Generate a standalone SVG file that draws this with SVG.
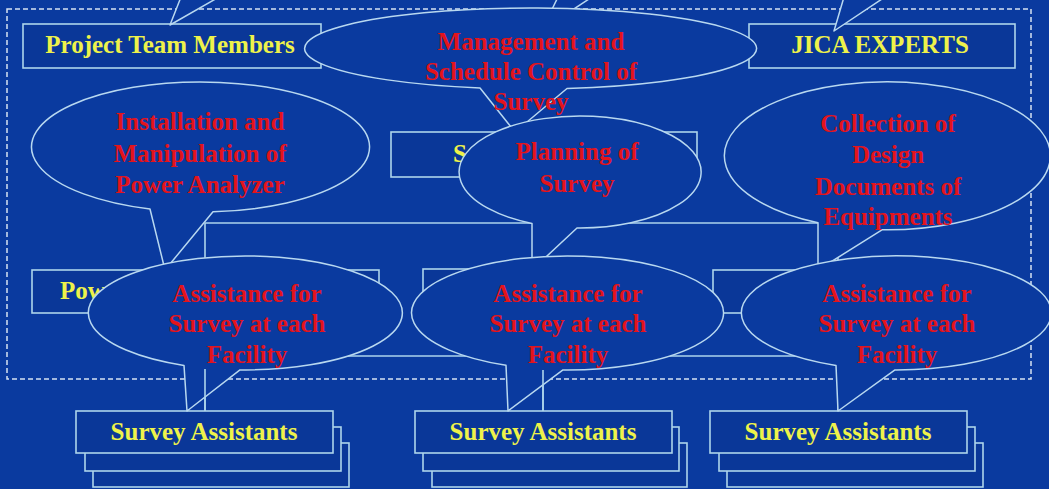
<svg xmlns="http://www.w3.org/2000/svg" width="1049" height="489" viewBox="0 0 1049 489">
  <style>
    .bg { fill: #0a3a9f; }
    .frame { fill: none; stroke: #d6e2f2; stroke-width: 1.5; stroke-dasharray: 5 3; }
    .box { fill: #0a3798; stroke: #add5ec; stroke-width: 1.6; }
    .wire { fill: none; stroke: #add5ec; stroke-width: 1.6; }
    .callout { fill: #0a3a9f; stroke: #b8d8f0; stroke-width: 1.5; stroke-linejoin: round; }
    .label { font-family: "Liberation Serif", "Times New Roman", serif; font-weight: bold; font-size: 25px; fill: #eef24a; }
    .note { font-family: "Liberation Serif", "Times New Roman", serif; font-weight: bold; font-size: 25px; fill: #e3141c; text-anchor: middle; }
  </style>

  <rect class="bg" x="0" y="0" width="1049" height="489"/>

  <!-- project boundary -->
  <rect class="frame" x="7" y="9" width="1024" height="370"/>

  <!-- org-chart connectors -->
  <g id="connectors">
    <line class="wire" x1="543" y1="177" x2="543" y2="223"/>
    <line class="wire" x1="205" y1="223" x2="838" y2="223"/>
    <line class="wire" x1="205" y1="223" x2="205" y2="270"/>
    <line class="wire" x1="543" y1="223" x2="543" y2="269"/>
    <line class="wire" x1="838" y1="223" x2="838" y2="270"/>
    <line class="wire" x1="543" y1="313" x2="543" y2="356"/>
    <line class="wire" x1="205" y1="356" x2="838" y2="356"/>
    <line class="wire" x1="205" y1="356" x2="205" y2="411"/>
    <line class="wire" x1="543" y1="356" x2="543" y2="411"/>
    <line class="wire" x1="838" y1="356" x2="838" y2="411"/>
  </g>

  <!-- boxes -->
  <g id="project-team">
    <rect class="box" x="23" y="24" width="298" height="44"/>
    <text class="label" x="170" y="53" text-anchor="middle">Project Team Members</text>
  </g>
  <g id="jica-experts">
    <rect class="box" x="749" y="24" width="266" height="44"/>
    <text class="label" x="880" y="53" text-anchor="middle">JICA EXPERTS</text>
  </g>
  <g id="survey-lead">
    <rect class="box" x="391" y="132" width="306" height="45"/>
    <text class="label" x="453" y="162">S</text>
  </g>
  <g id="power-team">
    <rect class="box" x="32" y="270" width="347" height="43"/>
    <text class="label" x="60" y="299">Power</text>
  </g>
  <g id="middle-team">
    <rect class="box" x="423" y="269" width="240" height="44"/>
  </g>
  <g id="right-team">
    <rect class="box" x="713" y="270" width="250" height="43"/>
  </g>

  <!-- survey assistant stacks -->
  <g id="assistants-left">
    <rect class="box" x="93" y="443" width="256" height="44"/>
    <rect class="box" x="85" y="427" width="256" height="44"/>
    <rect class="box" x="76" y="411" width="257" height="42"/>
    <text class="label" x="204" y="440" text-anchor="middle">Survey Assistants</text>
  </g>
  <g id="assistants-middle">
    <rect class="box" x="432" y="443" width="255" height="44"/>
    <rect class="box" x="423" y="427" width="256" height="44"/>
    <rect class="box" x="415" y="411" width="257" height="42"/>
    <text class="label" x="543" y="440" text-anchor="middle">Survey Assistants</text>
  </g>
  <g id="assistants-right">
    <rect class="box" x="727" y="443" width="256" height="44"/>
    <rect class="box" x="719" y="427" width="256" height="44"/>
    <rect class="box" x="710" y="411" width="257" height="42"/>
    <text class="label" x="838" y="440" text-anchor="middle">Survey Assistants</text>
  </g>

  <!-- tails of callouts entering from above -->
  <g id="upper-tails">
    <path class="callout" d="M181,-3 L170,25 L219,-3 Z"/>
    <path class="callout" d="M558,-3 L542,30 L592,-3 Z"/>
    <path class="callout" d="M844,-3 L834,31 L885,-3 Z"/>
  </g>

  <!-- callouts -->
  <g id="callout-installation">
    <path class="callout" d="M150,209 L165,270 L213,211.8 A169,65 0 1 0 150,209 Z"/>
    <text class="note" x="200" y="130">Installation and</text>
    <text class="note" x="200" y="162">Manipulation of</text>
    <text class="note" x="200" y="193">Power Analyzer</text>
  </g>
  <g id="callout-collection">
    <path class="callout" d="M818,222.8 L818,270 L882,229.8 A163,74 0 1 0 818,222.8 Z"/>
    <text class="note" x="888" y="132">Collection of</text>
    <text class="note" x="888" y="163">Design</text>
    <text class="note" x="888" y="195">Documents of</text>
    <text class="note" x="888" y="225">Equipments</text>
  </g>
  <g id="callout-management">
    <path class="callout" d="M480,88 L515,132 L567,88.5 A226,40.5 0 1 0 480,88 Z"/>
    <text class="note" x="531" y="50">Management and</text>
    <text class="note" x="531" y="80">Schedule Control of</text>
    <text class="note" x="531" y="110">Survey</text>
  </g>
  <g id="callout-planning">
    <path class="callout" d="M532,223.4 L532,270 L577,228 A121,56 0 1 0 532,223.4 Z"/>
    <text class="note" x="577" y="160">Planning of</text>
    <text class="note" x="577" y="192">Survey</text>
  </g>
  <g id="callout-assist-left">
    <path class="callout" d="M184,365.4 L187,411 L240,369.9 A157,57 0 1 0 184,365.4 Z"/>
    <text class="note" x="247" y="302">Assistance for</text>
    <text class="note" x="247" y="332">Survey at each</text>
    <text class="note" x="247" y="363">Facility</text>
  </g>
  <g id="callout-assist-middle">
    <path class="callout" d="M506,365.3 L508,411 L563,369.9 A156,57 0 1 0 506,365.3 Z"/>
    <text class="note" x="568" y="302">Assistance for</text>
    <text class="note" x="568" y="332">Survey at each</text>
    <text class="note" x="568" y="363">Facility</text>
  </g>
  <g id="callout-assist-right">
    <path class="callout" d="M836,365.4 L838,411 L895,369.9 A155,57 0 1 0 836,365.4 Z"/>
    <text class="note" x="897" y="302">Assistance for</text>
    <text class="note" x="897" y="332">Survey at each</text>
    <text class="note" x="897" y="363">Facility</text>
  </g>

  <!-- drop lines to the assistant stacks, drawn over the callout tails -->
  <g id="connector-drops">
    <line class="wire" x1="205" y1="369" x2="205" y2="411"/>
    <line class="wire" x1="543" y1="370" x2="543" y2="411"/>
  </g>
</svg>
